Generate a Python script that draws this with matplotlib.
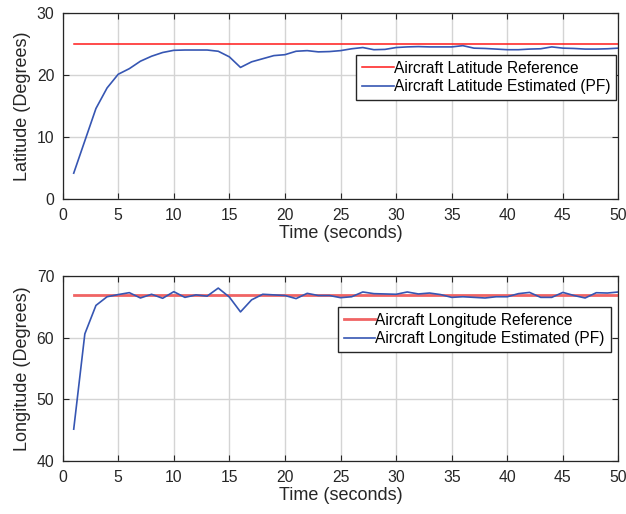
import matplotlib
matplotlib.use("Agg")
import matplotlib.pyplot as plt

plt.rcParams["font.family"] = ["Liberation Sans", "DejaVu Sans"]

time_s = list(range(1, 51))

lat_reference = 24.9
lat_estimated = [
    4.2, 9.4, 14.6, 17.9, 20.1, 21.0, 22.2, 23.0, 23.6, 23.95,
    24.0, 24.0, 24.0, 23.8, 22.9, 21.2, 22.1, 22.6, 23.1, 23.25,
    23.8, 23.9, 23.7, 23.75, 23.9, 24.2, 24.4, 24.05, 24.1, 24.4,
    24.5, 24.55, 24.5, 24.5, 24.5, 24.7, 24.3, 24.25, 24.15, 24.05,
    24.05, 24.15, 24.2, 24.5, 24.3, 24.25, 24.15, 24.15, 24.2, 24.3,
]

lon_reference = 66.95
lon_estimated = [
    45.2, 60.6, 65.2, 66.6, 66.95, 67.26, 66.4, 67.0, 66.35, 67.42,
    66.5, 66.9, 66.7, 68.0, 66.55, 64.15, 66.1, 67.0, 66.9, 66.8,
    66.3, 67.15, 66.8, 66.8, 66.45, 66.6, 67.37, 67.1, 67.05, 67.0,
    67.37, 67.05, 67.2, 66.95, 66.5, 66.6, 66.5, 66.4, 66.6, 66.6,
    67.1, 67.3, 66.5, 66.5, 67.3, 66.8, 66.4, 67.25, 67.2, 67.37,
]

x_ticks = list(range(0, 51, 5))
lat_ticks = [0, 10, 20, 30]
lon_ticks = [40, 50, 60, 70]

EDGE = "#262626"
BLUE = "#3656b3"


def style_axes(ax, yticks):
    ax.set_xlim(0, 50)
    ax.set_ylim(yticks[0], yticks[-1])
    ax.set_xticks(x_ticks)
    ax.set_yticks(yticks)
    ax.grid(True, color="#d4d4d4", linewidth=1.0)
    ax.set_axisbelow(True)
    ax.tick_params(direction="in", top=True, right=True, length=4,
                   width=0.8, color=EDGE, labelsize=11.3, labelcolor=EDGE, pad=6)
    for spine in ax.spines.values():
        spine.set_color(EDGE)
        spine.set_linewidth(0.9)
    ax.set_xlabel("Time (seconds)", fontsize=13, color=EDGE, labelpad=2)


def add_legend(ax, anchor):
    ax.legend(loc="upper right", bbox_to_anchor=anchor, fontsize=11.2,
              frameon=True, fancybox=False, edgecolor=EDGE, framealpha=1,
              handlelength=2.0, handletextpad=0.0, borderpad=0.4,
              labelspacing=0.2, borderaxespad=0)


fig = plt.figure(figsize=(6.26, 5.14), dpi=100)
ax_lat = fig.add_axes([0.100, 0.6123, 0.888, 0.3630])
ax_lon = fig.add_axes([0.100, 0.1025, 0.888, 0.3611])

ax_lat.plot([time_s[0], time_s[-1]], [lat_reference, lat_reference],
            color="#ff1a1a", linewidth=1.1, label="Aircraft Latitude Reference")
ax_lat.plot(time_s, lat_estimated, color=BLUE, linewidth=1.2,
            label="Aircraft Latitude Estimated (PF)")
style_axes(ax_lat, lat_ticks)
ax_lat.set_ylabel("Latitude (Degrees)", fontsize=13, color=EDGE, labelpad=4)
add_legend(ax_lat, (0.996, 0.775))

ax_lon.plot([time_s[0], time_s[-1]], [lon_reference, lon_reference],
            color="#f06464", linewidth=2.0, label="Aircraft Longitude Reference")
ax_lon.plot(time_s, lon_estimated, color=BLUE, linewidth=1.2,
            label="Aircraft Longitude Estimated (PF)")
style_axes(ax_lon, lon_ticks)
ax_lon.set_ylabel("Longitude (Degrees)", fontsize=13, color=EDGE, labelpad=4)
add_legend(ax_lon, (0.9865, 0.833))

fig.savefig("out.png", dpi=100)
